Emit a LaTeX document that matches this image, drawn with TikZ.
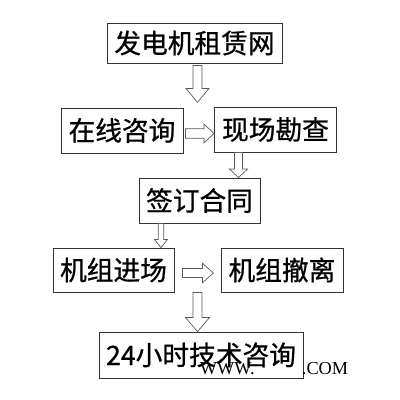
\documentclass[tikz,border=0pt]{standalone}
\usepackage{fontspec}
\setmainfont{Liberation Serif}
\newfontfamily\cjk[FakeBold=0.8]{Noto Sans CJK SC}
\usetikzlibrary{calc}
\definecolor{edge}{RGB}{50,50,50}
\definecolor{arrline}{RGB}{90,90,90}
\tikzset{
  blk/.style={draw=edge,line width=0.6pt,align=center,inner sep=0pt,
    font=\cjk\fontsize{19}{22}\selectfont},
  harr/.style={draw=arrline,line width=0.5pt,fill=white},
  wm/.style={anchor=base west,font=\fontsize{13}{15}\selectfont},
}
% hollow block arrows: start, tip, half shaft, half head, head length
\newcommand{\vblk}[5]{%
  \draw[harr] ($(#1)+(-#3,0)$) -- ($(#2)+(-#3,#5)$) -- ($(#2)+(-#4,#5)$) -- (#2)
    -- ($(#2)+(#4,#5)$) -- ($(#2)+(#3,#5)$) -- ($(#1)+(#3,0)$) -- cycle;}
\newcommand{\hblk}[5]{%
  \draw[harr] ($(#1)+(0,#3)$) -- ($(#2)+(-#5,#3)$) -- ($(#2)+(-#5,#4)$) -- (#2)
    -- ($(#2)+(-#5,-#4)$) -- ($(#2)+(-#5,-#3)$) -- ($(#1)+(0,-#3)$) -- cycle;}

\begin{document}
\begin{tikzpicture}[x=0.025cm,y=0.025cm]
  \useasboundingbox (0,0) rectangle (400,400);
  % boxes
  \node[blk,minimum width=4.375cm,minimum height=1cm] (gen) at (194.5,357) {发电机租赁网};
  \node[blk,minimum width=3.05cm,minimum height=1.125cm] (consult) at (122,269.5) {在线咨询};
  \node[blk,minimum width=3.05cm,minimum height=1.125cm] (site) at (275.5,270.5) {现场勘查};
  \node[blk,minimum width=3.025cm,minimum height=1.125cm] (contract) at (199.5,199.5) {签订合同};
  \node[blk,minimum width=3.025cm,minimum height=1.1cm] (enter) at (113.5,130) {机组进场};
  \node[blk,minimum width=3.05cm,minimum height=1.1cm] (leave) at (282,130) {机组撤离};
  \node[blk,minimum width=5.1cm,minimum height=1.15cm] (hotline) at (201,45) {24小时技术咨询};
  % arrow ends
  \coordinate (a1s) at ($(gen.south)+(3,-2)$);
  \coordinate (a1e) at ($(a1s)+(0,-37)$);
  \coordinate (a2s) at ($(consult.east)+(2,-3)$);
  \coordinate (a2e) at (a2s -| site.west);
  \coordinate (a3s) at ($(site.south)+(-37,0)$);
  \coordinate (a3e) at (a3s |- contract.north);
  \coordinate (a4s) at ($(contract.south)+(-38.5,0)$);
  \coordinate (a4e) at (a4s |- enter.north);
  \coordinate (a5s) at ($(enter.east)+(8,-3)$);
  \coordinate (a5e) at ($(a5s)+(31,0)$);
  \coordinate (a6s) at ($(enter.south)+(84,0)$);
  \coordinate (a6e) at (a6s |- hotline.north);
  % arrows
  \vblk{a1s}{a1e}{4.5}{11.5}{14}
  \hblk{a2s}{a2e}{4.7}{9.3}{10}
  \vblk{a3s}{a3e}{4}{9}{8.5}
  \vblk{a4s}{a4e}{2.7}{6.5}{8}
  \hblk{a5s}{a5e}{4.5}{9.8}{11}
  \vblk{a6s}{a6e}{4.5}{12}{14}
  % watermark
  \node[wm] (wmw) at (195,25) {WWW.};
  \node[wm] (wmc) at (297,25) {.COM};
\end{tikzpicture}
\end{document}
